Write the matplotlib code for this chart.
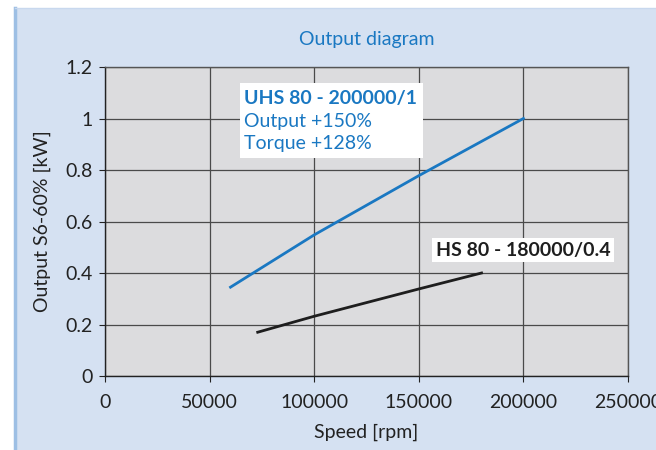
import matplotlib
matplotlib.use("Agg")
import matplotlib.pyplot as plt
from matplotlib.patches import Rectangle
from matplotlib.lines import Line2D

plt.rcParams['font.family'] = ['Lato', 'DejaVu Sans']

uhs_speed = [60000, 100000, 150000, 200000]
uhs_power = [0.345, 0.548, 0.778, 1.0]
hs_speed = [73000, 100000, 150000, 180000]
hs_power = [0.17, 0.232, 0.338, 0.40]

x_ticks = [0, 50000, 100000, 150000, 200000, 250000]
y_ticks = [0, 0.2, 0.4, 0.6, 0.8, 1, 1.2]
y_labels = ["0", "0.2", "0.4", "0.6", "0.8", "1", "1.2"]

blue = "#1a78c2"
fig = plt.figure(figsize=(6.56, 4.5), dpi=100)
fig.patch.set_facecolor("white")
# background panel
fig.patches.append(Rectangle((15/656, 0), 1, 1 - 8/450, transform=fig.transFigure,
                             facecolor="#d5e1f2", edgecolor="none", zorder=-10))
fig.lines.append(Line2D([15/656, 15/656], [0, 1 - 8/450], transform=fig.transFigure,
                        color="#9dbfe4", lw=2.5, zorder=-5))
fig.lines.append(Line2D([15/656, 1], [1 - 8/450, 1 - 8/450], transform=fig.transFigure,
                        color="#c8d8ee", lw=1, zorder=-5))

ax = fig.add_axes([105/656, 1 - 376/450, 523/656, 309/450])
ax.set_facecolor("#dcdcde")
ax.set_xlim(0, 250000)
ax.set_ylim(0, 1.2)
ax.set_xticks(x_ticks)
ax.set_xticklabels([str(v) for v in x_ticks])
ax.set_yticks(y_ticks)
ax.set_yticklabels(y_labels)
ax.grid(True, color="#4a4a4a", lw=0.9)
ax.set_axisbelow(True)
for s in ax.spines.values():
    s.set_color("#555555")
    s.set_linewidth(1.0)
ax.spines['left'].set_color("#222222")
ax.spines['bottom'].set_color("#222222")
ax.tick_params(axis='both', colors="#222222", labelcolor="#222222", labelsize=14,
               length=4, direction='out')
ax.tick_params(axis='x', pad=9)
ax.tick_params(axis='y', pad=5)

ax.plot(uhs_speed, uhs_power, color=blue, lw=2.0, zorder=3)
ax.plot(hs_speed, hs_power, color="#1e1e1e", lw=2.0, zorder=3)

ax.text(0.5, 1.088, "Output diagram", transform=ax.transAxes, ha="center", va="center",
        color=blue, fontsize=14)
ax.set_xlabel("Speed [rpm]", fontsize=14, color="#222222", labelpad=9)
ax.set_ylabel("Output S6-60% [kW]", fontsize=14, color="#222222", labelpad=10)

ax.text(66400, 1.112, "UHS 80 - 200000/1", fontsize=14, fontweight="bold", color=blue,
        va="top", ha="left", zorder=5)
ax.text(66400, 1.022, "Output +150%\nTorque +128%", fontsize=14, color=blue,
        va="top", ha="left", linespacing=1.4, zorder=5)
# white backing box for annotation
ax.add_patch(Rectangle((64500, 0.847), 87500, 0.291, facecolor="white", edgecolor="none", zorder=4))

ax.text(158200, 0.489, "HS 80 - 180000/0.4", fontsize=14, fontweight="bold", color="#1e1e1e",
        va="center", ha="left", zorder=5,
        bbox=dict(facecolor="white", edgecolor="none", pad=2.5))

fig.savefig("out.png", dpi=100)
